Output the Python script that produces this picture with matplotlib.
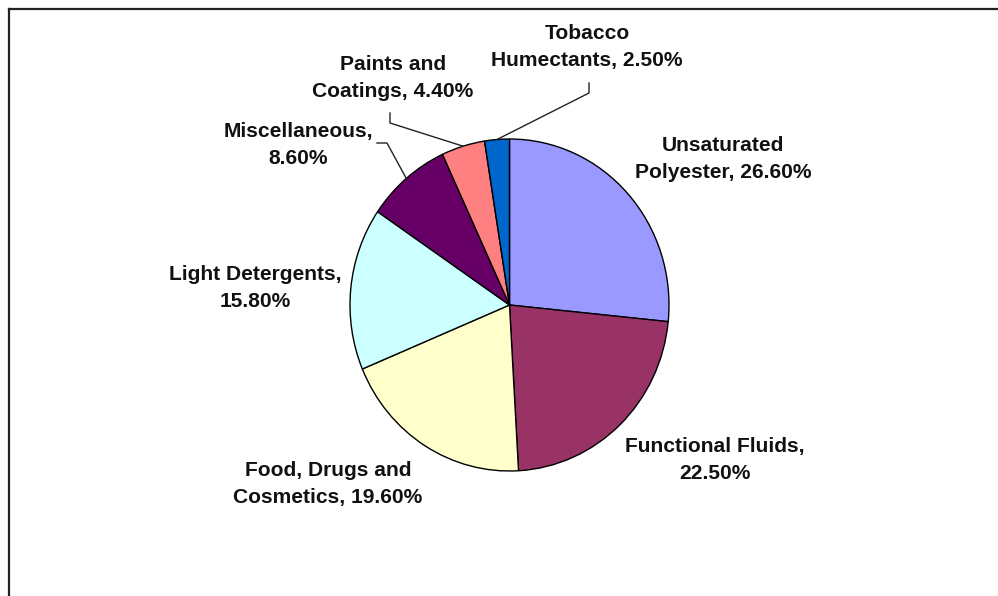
import numpy as np
import matplotlib
matplotlib.use("Agg")
import matplotlib.pyplot as plt
from matplotlib.lines import Line2D

# --- Data ---
categories = ["Unsaturated\nPolyester", "Functional Fluids,\n", "Food, Drugs and\nCosmetics",
              "Light Detergents,\n", "Miscellaneous,\n", "Paints and\nCoatings",
              "Tobacco\nHumectants"]
shares = [26.6, 22.5, 19.6, 15.8, 8.6, 4.4, 2.5]
colors = ["#9999FF", "#993366", "#FFFFCC", "#CCFFFF", "#660066", "#FF8080", "#0066CC"]

# --- Layout (pixels) ---
W, H = 998, 596
cx, cy = 509.5, 305.0   # pie centre
rx, ry = 159.5, 166.0   # pie radii


def px(x, y):
    """Pixel position -> data coords of the full-figure axes."""
    return (x - cx) / rx, (cy - y) / ry


fig = plt.figure(figsize=(W / 100, H / 100), dpi=100)
ax = fig.add_axes([0, 0, 1, 1])

wedges, _ = ax.pie(shares, colors=colors, startangle=90, counterclock=False,
                   wedgeprops=dict(edgecolor="black", linewidth=1.0))
ax.set_aspect("auto")
ax.set_xlim((0 - cx) / rx, (W - cx) / rx)
ax.set_ylim((cy - H) / ry, (cy - 0) / ry)
ax.axis("off")

# label text: "<name>, <value>%" split over two lines
def label_text(i):
    name = categories[i]
    first, second = name.split("\n")
    if second:
        return f"{first}\n{second}, {shares[i]:.2f}%"
    return f"{first}\n{shares[i]:.2f}%"

# label centres in pixels
label_pos = [(723, 159), (715, 460), (328, 484), (255, 288),
             (298, 145), (393, 78), (587, 47)]

for i, (lx, ly) in enumerate(label_pos):
    ax.text(*px(lx, ly), label_text(i), ha="center", va="center",
            fontsize=15.1, fontweight="bold", family="Liberation Sans",
            linespacing=1.5, color="#111111")

# leader lines for the small slices
def edge_point(i):
    w = wedges[i]
    mid = np.deg2rad((w.theta1 + w.theta2) / 2)
    return np.cos(mid), np.sin(mid)

leaders = {
    6: [(589, 83), (589, 93)],
    5: [(390, 113), (390, 123)],
    4: [(377, 143), (387, 143)],
}
for i, pts in leaders.items():
    xs = [px(*p)[0] for p in pts]
    ys = [px(*p)[1] for p in pts]
    ex, ey = edge_point(i)
    ax.plot(xs + [ex], ys + [ey], color="#222222", linewidth=1.0)

# frame along the top and left edges
fig.add_artist(Line2D([8.5 / W, 8.5 / W], [0, 1 - 9 / H], color="#222222",
                      linewidth=1.6, transform=fig.transFigure))
fig.add_artist(Line2D([8.5 / W, 1], [1 - 9 / H, 1 - 9 / H], color="#222222",
                      linewidth=1.6, transform=fig.transFigure))

fig.savefig("out.png", dpi=100, facecolor="white")
